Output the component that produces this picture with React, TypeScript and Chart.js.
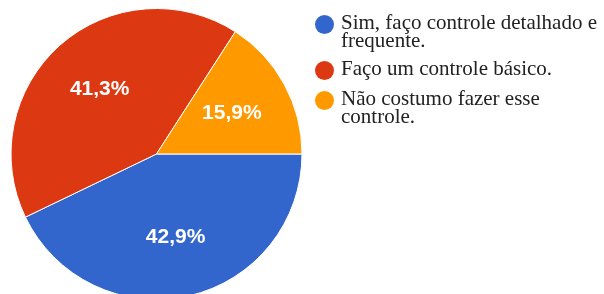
import React, { useEffect, useRef } from "react";
import { Chart, registerables } from "chart.js";

Chart.register(...registerables);

const categories = [
  "Sim, faço controle detalhado e frequente.",
  "Faço um controle básico.",
  "Não costumo fazer esse controle.",
];
const legendLines = [
  ["Sim, faço controle detalhado e", "frequente."],
  ["Faço um controle básico."],
  ["Não costumo fazer esse", "controle."],
];
const values = [42.9, 41.3, 15.9];
const colors = ["#3366CC", "#DC3912", "#FF9900"];

const sliceLabelPlugin = {
  id: "sliceLabels",
  afterDatasetsDraw(chart: any) {
    const meta = chart.getDatasetMeta(0);
    const data = chart.data.datasets[0].data as number[];
    const total = data.reduce((a, b) => a + b, 0);
    const ctx = chart.ctx;
    ctx.save();
    ctx.fillStyle = "#ffffff";
    ctx.font = "bold 21px 'Liberation Sans', Arial, sans-serif";
    ctx.textAlign = "center";
    ctx.textBaseline = "middle";
    meta.data.forEach((arc: any, i: number) => {
      const p = arc.getProps(["x", "y", "startAngle", "endAngle", "outerRadius"], true);
      const mid = (p.startAngle + p.endAngle) / 2;
      const r = p.outerRadius * 0.59;
      const x = p.x + Math.cos(mid) * r;
      const y = p.y + Math.sin(mid) * r;
      const pct = ((data[i] / total) * 100).toFixed(1).replace(".", ",") + "%";
      ctx.fillText(pct, x, y);
    });
    ctx.restore();
  },
};

const legendTops = [12.6, 58.9, 88.9];
const circleTops = [15.2, 61, 90.5];

export default function App() {
  const ref = useRef<HTMLCanvasElement>(null);
  useEffect(() => {
    if (!ref.current) return;
    const chart = new Chart(ref.current, {
      type: "pie",
      data: {
        labels: categories,
        datasets: [
          {
            data: values,
            backgroundColor: colors,
            borderColor: "#ffffff",
            borderWidth: 1,
          },
        ],
      },
      options: {
        responsive: false,
        animation: false,
        rotation: 90,
        layout: { padding: { left: 10, top: 8, right: 301, bottom: 0 } },
        plugins: {
          legend: { display: false },
          tooltip: { enabled: false },
        },
      },
      plugins: [sliceLabelPlugin],
    });
    return () => chart.destroy();
  }, []);

  return (
    <div
      style={{
        position: "absolute",
        left: 0,
        top: 0,
        width: 604,
        height: 294,
        overflow: "hidden",
        background: "#ffffff",
      }}
    >
      <canvas ref={ref} width={604} height={300} style={{ display: "block" }} />
      {legendLines.map((lines, i) => (
        <React.Fragment key={i}>
          <div
            style={{
              position: "absolute",
              left: 315,
              top: circleTops[i],
              width: 19,
              height: 19,
              borderRadius: "50%",
              background: colors[i],
            }}
          />
          <div
            style={{
              position: "absolute",
              left: 341,
              top: legendTops[i],
              fontFamily: "'Liberation Serif', 'Times New Roman', serif",
              fontSize: 21,
              lineHeight: "18px",
              color: "#222222",
              whiteSpace: "nowrap",
            }}
          >
            {lines.map((l, j) => (
              <div key={j}>{l}</div>
            ))}
          </div>
        </React.Fragment>
      ))}
    </div>
  );
}
